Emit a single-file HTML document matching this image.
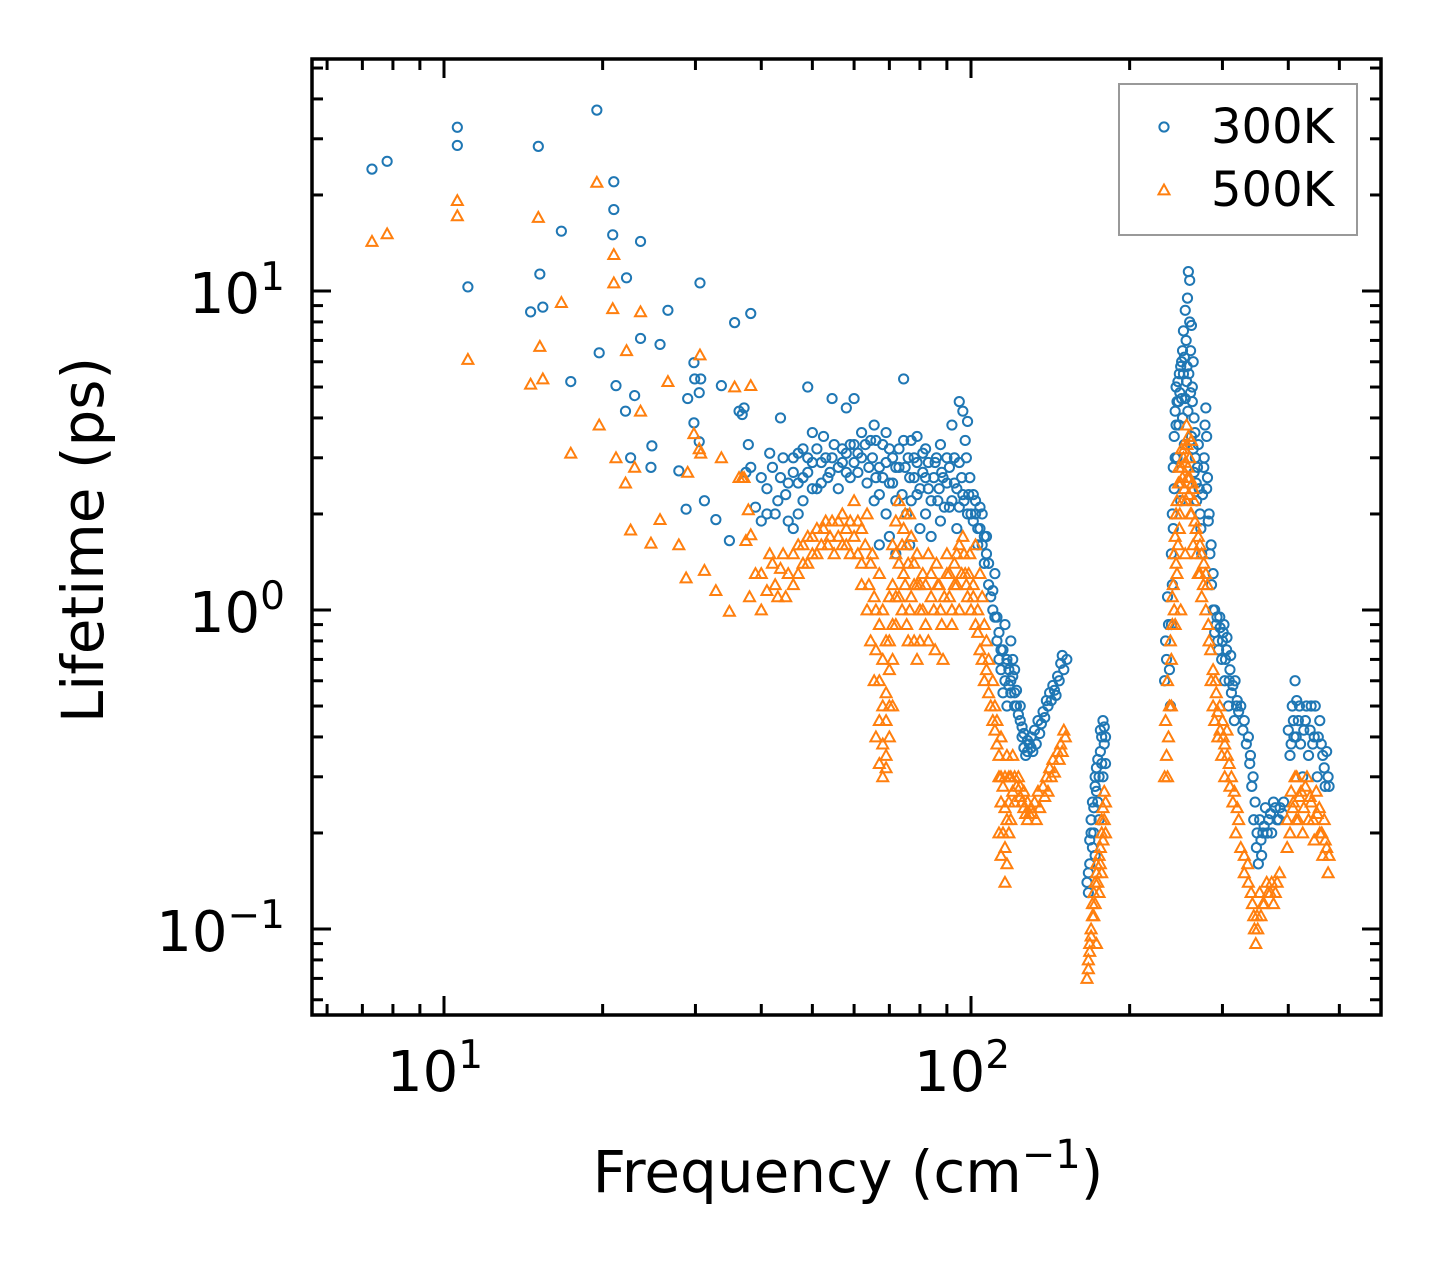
<!DOCTYPE html>
<html><head><meta charset="utf-8"><style>
html,body{margin:0;padding:0;background:#fff;}
svg{display:block;font-family:"DejaVu Sans","Liberation Sans",sans-serif;}
</style></head><body>
<svg id="chart" width="1442" height="1265" xmlns="http://www.w3.org/2000/svg">
<rect width="1442" height="1265" fill="#fff"/>
<g id="marks"></g>
<g id="axes"></g>
</svg>
<script>
// ---- data: [frequency cm^-1, lifetime ps] ----
const lowFreq300 = [[7.3,24.1],[7.8,25.5],[10.6,32.6],[10.6,28.6],[11.1,10.3],[15.1,28.4],[15.2,11.3],[14.6,8.6],[15.4,8.9],[16.7,15.4],[17.4,5.2],[19.5,36.9],[19.7,6.4],[21.0,22],[21.0,18],[20.9,15],[21.2,5.05],[22.2,11],[22.1,4.2],[22.6,3.0],[23.0,4.7],[23.6,14.3],[23.6,7.1],[24.7,2.8],[25.7,6.8],[26.6,8.7],[24.8,3.27],[27.9,2.73],[29.0,4.6],[28.8,2.07],[29.8,5.96],[30.6,10.6],[29.9,5.3],[30.7,5.3],[30.5,4.8],[29.8,3.86],[30.5,3.37],[31.2,2.2],[32.8,1.92],[33.6,5.05],[34.8,1.65],[35.6,7.96],[38.2,8.5],[36.3,4.2],[36.8,4.1],[37.1,4.3],[37.8,3.3],[38.2,2.8],[37.4,2.7]];
const midFreq300 = [[39,2.1],[40,1.9],[41,2.4],[41.5,3.1],[42.5,2.0],[43.5,2.6],[43.5,4.0],[44.5,2.3],[46,3.0],[46,1.8],[47,2.5],[48,3.2],[48,2.2],[49,5.0],[49,2.7],[50,3.6],[51,2.4],[52,2.9],[52.5,3.5],[53.5,2.6],[54.5,4.6],[54.5,3.0],[56,2.8],[57,3.2],[58,2.7],[58,4.3],[59,3.3],[60,2.9],[60,4.6],[61,3.1],[62,3.6],[63.5,2.5],[64.5,3.4],[65.5,2.2],[65.5,3.8],
[67,1.6],[67,2.8],[68,3.3],[69,2.0],[69,3.6],[70,1.7],[70,2.5],[71,3.0],[72,2.2],[72,1.5],[73,2.8],[74.5,5.3],[74.5,3.4],[75.5,2.0],[76.5,2.6],[76.5,1.6],[78,3.0],[79,2.3],[79,3.5],[80,1.8],[81,2.7],[82,3.2],[82,2.0],[83,2.4],[84,1.7],[85.5,2.9],[86.5,2.2],[87.5,3.3],[87.5,1.9],[88.5,2.6],[90,3.0],[91,2.1],[92,3.8],[93,2.5],[94,1.8],[95,4.5],[95,2.9],[96.5,4.2],[96.5,2.3],[97.5,3.4],[98.5,3.9],[98.5,2.0],[99.5,2.6],[101,2.3],[102,2.0],[103,1.8],[104,2.1],[105,1.6],[106,1.4],[107,1.7],[108,1.2],[110,1.0],[111,1.3]];
const highFreq300 = [[112,0.95],[113,0.85],[114,0.75],[116,0.9],[117,0.7],[118,0.65],[119,0.6],[120,0.7],[121,0.55],[122,0.5],[124,0.45],[125,0.4],[126,0.37],[127,0.35],[128,0.36],[129,0.38],[130,0.4],[132,0.42],[134,0.45],[137,0.48],[139,0.52],[141,0.55],[143,0.58],[146,0.62],[148,0.68],[149,0.72],[115,0.55],[119,0.8],[121,0.65],[117,0.5],
[166,0.14],[167,0.13],[168,0.16],[169,0.2],[170,0.18],[171,0.24],[172,0.28],[173,0.32],[175,0.3],[176,0.36],[177,0.4],[178,0.45],[179,0.38],[180,0.33],[175,0.22],[172,0.17],
[233,0.6],[234,0.8],[235,0.7],[236,1.1],[237,0.9],[239,0.5],[240,1.5],[241,2.0],[242,2.8],[243,3.5],[244,4.2],[245,5.0],[246,3.0],[247.5,4.5],[248.5,5.5],[250,2.2],[251,6.0],[252,4.0],[253,7.5],[254,3.3],[255,8.7],[256.5,5.2],[257.5,9.5],[258.5,11.5],[260,10.8],[261,6.5],[262,7.8],[263,5.0],[264,6.0],[265,4.0],[266.5,3.0],[267.5,2.5],[270,3.3],[272,2.0],[274,1.5],[276.5,2.8],[279,4.3],[280,3.5],[281,2.6],[283,2.0],[285.5,1.6],[288,1.3],[290,1.0],[292,0.9],[294,0.8],[296.5,0.95],[299,0.7],[301,0.85],[303,0.6],[305.5,0.75],[308,0.5],[310,0.65],[312,0.55],[316,0.45],[319,0.5],
[325,0.5],[330,0.45],[336,0.4],[339,0.35],[343,0.3],[346,0.25],[349,0.2],[353,0.22],[356,0.17],[358,0.2],[362,0.24],[365,0.2],[370,0.23],[375,0.25],[381,0.22],[386,0.24],[392,0.25],
[403,0.35],[409,0.45],[412,0.6],[414,0.4],[420,0.5],[426,0.3],[431,0.45],[437,0.35],[442,0.5],[448,0.4],[454,0.3],[459,0.45],[465,0.35],[470,0.28],[476,0.3]];
const fill300a = [[40,2.6],[41,2.0],[42,2.8],[43,2.2],[44,3.0],[45,2.5],[45,1.9],[46,2.7],[47,3.1],[47,2.0],[48,2.6],[49,3.0],[50,2.4],[50,2.9],[51,3.2],[52,2.5],[53,3.0],[54,2.7],[55,3.3],[56,2.4],[57,2.9],[58,3.1],[59,2.6],[60,3.3],[61,2.7],[62,3.0],[63,3.3],[64,2.8],[65,3.0],[66,2.6],[66,3.4],
[67,2.3],[68,2.6],[69,2.9],[70,3.2],[71,2.5],[72,2.8],[73,3.2],[74,2.3],[75,2.8],[76,3.0],[77,2.2],[77,3.4],[78,2.6],[79,2.9],[80,2.4],[81,3.1],[82,2.6],[83,2.9],[84,2.2],[85,2.6],[86,3.0],[87,2.4],[88,2.7],[89,2.1],[90,2.5],[91,2.8],[92,2.2],[93,3.0],[94,2.4],[95,2.1],[96,2.6],[97,2.2],[98,3.0],[99,2.3],[100,2.0],[101,1.9],[102,2.2],[103,1.6],[104,1.8],[105,2.0],[106,1.7],[107,1.5],[108,1.4],[109,1.1],[110,1.15],[111,0.95]];
const fill300b = [[112,0.8],[113,0.7],[114,0.65],[115,0.75],[116,0.6],[117,0.68],[118,0.58],[119,0.55],[120,0.62],[121,0.5],[122,0.56],[123,0.47],[124,0.5],[125,0.43],[126,0.41],[128,0.39],[130,0.37],[131,0.36],[133,0.38],[135,0.41],[136,0.44],[138,0.46],[140,0.5],[142,0.52],[144,0.56],[145,0.54],[147,0.6],[150,0.65],[152,0.7],
[167,0.15],[168,0.19],[169,0.22],[170,0.25],[171,0.2],[172,0.3],[173,0.27],[174,0.34],[174,0.25],[176,0.42],[177,0.33],[178,0.3],[179,0.43],[180,0.4]];
const fill300c = [[238,0.65],[240,0.9],[241,1.2],[242,1.8],[243,2.4],[244,3.0],[245,3.8],[246,4.5],[247,5.2],[248,3.8],[249,4.8],[250,5.8],[251,4.6],[252,6.5],[253,5.5],[254,6.2],[255,4.6],[256,7.0],[257,5.8],[258,4.2],[259,5.5],[260,8.0],[261,4.8],[262,3.5],[263,4.5],[264,3.2],[265,2.7],[266,3.6],[268,2.2],[269,2.8],[271,2.4],[273,1.8],[275,2.3],[277,3.0],[278,3.8],[280,2.4],[282,1.9],[284,1.5],[286,1.2],[288,1.0],[290,0.85],[293,0.95],[295,0.75],[297,0.88],[300,0.8],[302,0.9],[304,0.7],[306,0.82],[309,0.6],[311,0.72],[314,0.58],[317,0.6],[320,0.52],[322,0.48],
[328,0.42],[333,0.38],[338,0.33],[341,0.28],[344,0.22],[348,0.18],[351,0.16],[355,0.19],[360,0.21],[367,0.22],[372,0.2],[378,0.24],[384,0.22],[390,0.23],
[400,0.42],[405,0.38],[407,0.5],[410,0.4],[415,0.52],[418,0.45],[422,0.38],[428,0.42],[433,0.5],[440,0.42],[445,0.38],[450,0.5],[456,0.4],[462,0.38],[468,0.32],[473,0.36],[478,0.28]];
const lowFreq500 = [[7.3,14.3],[7.8,15.1],[10.6,19.2],[10.6,17.2],[11.1,6.1],[14.6,5.1],[15.1,17.0],[15.2,6.7],[15.4,5.3],[16.7,9.2],[17.4,3.1],[19.5,21.9],[19.7,3.8],[20.9,8.8],[21.0,10.6],[21.0,13],[21.2,3.0],[22.2,6.5],[22.1,2.5],[22.6,1.78],[23.0,2.8],[23.6,8.6],[23.6,4.2],[24.7,1.62],[25.7,1.92],[26.6,5.2],[27.9,1.6],[29.0,2.7],[28.8,1.26],[29.8,3.57],[30.6,6.3],[30.5,3.2],[30.7,3.1],[31.2,1.33],[32.8,1.15],[33.6,3.0],[34.8,0.99],[35.6,5.0],[38.2,5.05],[36.3,2.6],[36.8,2.6],[37.1,2.6],[37.8,2.06],[38.2,1.72],[37.4,1.65]];
const midFreq500 = [[38,1.1],[39,1.3],[40,1.0],[41.5,1.5],[42.5,1.2],[43.5,1.35],[44.5,1.1],[46,1.5],[47,1.3],[48,1.6],[49,1.4],[50,1.7],[51,1.5],[52.5,1.8],[53.5,1.6],[54.5,1.9],[56,1.7],[57,2.0],[58,1.6],[59,1.9],[60,2.2],[61,1.5],[62,1.2],[62,1.8],[63.5,1.0],[63.5,2.0],[64.5,0.8],[64.5,1.4],
[65.5,0.6],[65.5,1.1],[67,0.45],[67,0.9],[68,0.38],[68,0.7],[69,0.35],[69,0.55],[70,0.5],[70,0.8],[71,0.7],[71,1.2],[72,0.9],[72,1.5],[73,1.1],[73,2.2],[74.5,1.3],[74.5,1.8],[75.5,0.9],[75.5,1.6],[76.5,1.0],[76.5,2.0],[78,0.8],[78,1.4],[79,0.7],[79,1.2],[80,1.0],[81,1.3],[82,0.9],[83,1.5],[84,1.1],[85.5,0.75],[86.5,1.2],[87.5,1.0],[88.5,0.7],[90,1.3],[91,1.1],[92,0.9],[93,1.2],[94,1.5],[95,1.0],[96.5,1.7],[97.5,1.3],[98.5,1.1],[99.5,1.5],[101,1.2],[102,1.6],[103,1.0],[104,1.3],[105,1.1],[106,0.9],[107,0.8],[108,0.7]];
const highFreq500 = [[110,0.6],[111,0.5],[112,0.45],[113,0.3],[113,0.2],[114,0.4],[114,0.17],[116,0.3],[116,0.14],[117,0.35],[117,0.22],[118,0.25],[119,0.3],[120,0.35],[121,0.3],[122,0.28],[124,0.26],[125,0.25],[126,0.24],[127,0.23],[128,0.22],[129,0.23],[130,0.24],[132,0.25],[134,0.27],[137,0.28],[139,0.3],[141,0.32],[143,0.34],[146,0.36],[148,0.38],[150,0.42],
[166,0.07],[167,0.08],[168,0.09],[169,0.1],[170,0.12],[171,0.11],[172,0.14],[173,0.16],[175,0.13],[176,0.18],[177,0.2],[178,0.24],[179,0.27],[180,0.2],[173,0.09],[177,0.15],
[233,0.3],[234,0.45],[235,0.35],[236,0.6],[237,0.4],[239,0.8],[240,0.5],[241,1.1],[243,1.5],[244,0.9],[245,2.0],[246,1.3],[247.5,2.5],[248.5,1.8],[250,1.0],[251,2.8],[252,2.2],[254,3.2],[255,1.5],[256.5,3.8],[257.5,2.6],[258.5,3.5],[260,3.0],[261,2.0],[262,3.4],[263,2.5],[264,1.6],[265,2.2],[267.5,1.8],[270,1.3],[272,1.6],[274,1.1],[276.5,1.4],[279,1.0],[281,1.2],[283,0.8],[285.5,0.6],[288,0.5],[290,0.45],[292,0.55],[294,0.4],[296.5,0.5],[299,0.35],[301,0.4],[303,0.3],[306.5,0.35],[310,0.28],[314,0.25],[318,0.2],
[325,0.18],[330,0.15],[336,0.14],[342,0.12],[345,0.1],[347,0.09],[349,0.11],[353,0.13],[358,0.12],[364,0.14],[370,0.13],[375,0.12],[381,0.14],
[398,0.18],[403,0.2],[409,0.25],[412,0.3],[414,0.22],[420,0.26],[426,0.2],[431,0.28],[437,0.22],[442,0.25],[448,0.19],[454,0.23],[459,0.2],[465,0.17],[470,0.19],[476,0.15]];
const fill500a = [[40,1.3],[41,1.15],[42,1.4],[43,1.1],[44,1.5],[45,1.3],[46,1.2],[47,1.6],[48,1.4],[49,1.7],[50,1.5],[51,1.8],[52,1.6],[53,1.9],[54,1.7],[55,1.5],[56,1.9],[57,1.6],[58,1.8],[59,1.5],[60,1.7],[61,1.9],[62,1.4],[63,1.6],[64,1.2],[65,1.5],[66,1.0],[66,0.75],
[67,0.6],[67,1.3],[68,0.5],[68,1.0],[69,0.45],[69,0.8],[70,0.65],[70,1.1],[71,0.9],[71,1.6],[72,1.1],[72,1.9],[73,1.4],[74,1.6],[74,1.0],[75,1.2],[75,2.0],[76,1.4],[76,0.8],[77,1.7],[77,1.1],[78,1.2],[79,1.5],[80,1.2],[80,0.8],[81,1.0],[82,1.2],[83,0.8],[84,1.3],[85,1.0],[86,1.4],[87,1.2],[88,0.9],[89,1.1],[90,1.5],[91,1.3],[92,1.0],[93,1.4],[94,1.2],[95,1.6],[96,1.3],[97,1.5],[98,1.2],[99,1.3],[100,1.0],[101,1.1],[102,0.9],[103,0.85],[104,0.75],[105,0.7],[106,0.6],[107,0.65],[108,0.55],[109,0.5],[110,0.45],[111,0.42],[112,0.38],
[66,0.4],[67,0.33],[68,0.3],[69,0.32],[70,0.4],[71,0.5]];
const fill500b = [[113,0.35],[114,0.3],[114,0.25],[115,0.2],[115,0.28],[116,0.18],[116,0.24],[117,0.16],[118,0.2],[118,0.3],[119,0.22],[120,0.27],[121,0.25],[123,0.3],[124,0.28],[126,0.27],[128,0.25],[131,0.23],[133,0.22],[135,0.24],[138,0.26],[140,0.27],[142,0.3],[144,0.31],[147,0.34],[149,0.36],[151,0.4],
[167,0.075],[168,0.085],[169,0.095],[170,0.11],[171,0.13],[172,0.12],[173,0.15],[174,0.14],[175,0.17],[176,0.16],[177,0.22],[178,0.19],[179,0.22],[180,0.25]];
const fill500c = [[236,0.3],[238,0.5],[240,0.7],[241,0.9],[242,1.2],[243,1.0],[244,1.7],[245,1.4],[246,2.2],[247,1.6],[248,2.8],[249,2.0],[250,2.5],[251,3.2],[252,2.6],[253,3.0],[254,2.4],[255,2.9],[256,2.2],[257,3.3],[258,2.8],[259,2.3],[260,2.6],[262,2.0],[264,2.4],[266,1.9],[268,1.5],[270,1.7],[272,1.3],[274,1.5],[276,1.2],[279,1.3],[282,0.9],[285,0.75],[288,0.65],[291,0.6],[294,0.48],[297,0.42],[300,0.45],[303,0.38],[306,0.42],[309,0.33],[312,0.3],[316,0.27],[320,0.24],[322,0.22],
[330,0.17],[335,0.16],[340,0.13],[344,0.11],[350,0.1],[355,0.11],[360,0.12],[366,0.13],[372,0.14],[378,0.13],[385,0.15],
[398,0.22],[405,0.27],[408,0.24],[415,0.3],[418,0.22],[423,0.27],[428,0.24],[434,0.3],[440,0.26],[446,0.22],[452,0.27],[458,0.24],[463,0.2],[468,0.22],[473,0.18],[478,0.17]];
const xMajorTicks = [10, 100];
const yMajorTicks = [0.1, 1, 10];
const xTickExps = ["1", "2"];
const yTickExps = ["\u22121", "0", "1"];
const seriesNames = ["300K", "500K"];

// ---- layout ----
const L=312, R=1381, T=59, B=1015;
const X_LOG0=1, X_PX0=444, X_DEC=527;
const Y_PX0=610, Y_DEC=319;
const NS="http://www.w3.org/2000/svg";
function xs(f){return X_PX0 + (Math.log10(f)-X_LOG0)*X_DEC;}
function ys(v){return Y_PX0 - Math.log10(v)*Y_DEC;}
function mk(tag, attrs, parent){const e=document.createElementNS(NS,tag);for(const k in attrs)e.setAttribute(k,attrs[k]);parent.appendChild(e);return e;}
const marks=document.getElementById('marks');
const axes=document.getElementById('axes');
const BLUE="#1f77b4", ORANGE="#ff7f0e";

function circle(cx,cy,parent){
  return mk('circle',{cx:cx,cy:cy,r:4.6,fill:'none',stroke:BLUE,'stroke-width':2},parent);
}
function tri(cx,cy,parent){
  const s=5.5;
  return mk('polygon',{points:`${cx},${cy-s} ${cx-s},${cy+s*0.8} ${cx+s},${cy+s*0.8}`,fill:'none',stroke:ORANGE,'stroke-width':2},parent);
}
const g300=mk('g',{},marks);


[lowFreq300,midFreq300,highFreq300,fill300a,fill300b,fill300c].forEach(arr=>arr.forEach(d=>{
  const c=circle(xs(d[0]),ys(d[1]),g300);
  
  
}));
const g500=mk('g',{},marks);


[lowFreq500,midFreq500,highFreq500,fill500a,fill500b,fill500c].forEach(arr=>arr.forEach(d=>{
  const p=tri(xs(d[0]),ys(d[1]),g500);
  
  
}));

// frame
const frame=mk('rect',{x:L,y:T,width:R-L,height:B-T,fill:'none',stroke:'#000','stroke-width':3.5},axes);



function tickLine(x1,y1,x2,y2,name){
  const l=mk('line',{x1:x1,y1:y1,x2:x2,y2:y2,stroke:'#000','stroke-width':3},axes);
  
  
}
for(let d=1; d<=100; d*=10){
  for(let m=1;m<10;m++){
    const f=d*m; const x=xs(f);
    if(x<L+1||x>R-1) continue;
    const len = m===1?19:11;
    tickLine(x,B,x,B-len,'x-tick');
    tickLine(x,T,x,T+len,'x-tick-top');
  }
}
for(let d=0.01; d<=100; d*=10){
  for(let m=1;m<10;m++){
    const v=d*m; const y=ys(v);
    if(y<T+1||y>B-1) continue;
    const len = m===1?19:11;
    tickLine(L,y,L+len,y,'y-tick');
    tickLine(R,y,R-len,y,'y-tick-right');
  }
}
xMajorTicks.forEach((f,i)=>{
  const t=mk('text',{x:xs(f)-9,y:1091,'font-size':56,'text-anchor':'middle'},axes);
  
  
  t.appendChild(document.createTextNode('10'));
  const s=mk('tspan',{'font-size':39,dy:-23},t);
  s.textContent=xTickExps[i];
});
yMajorTicks.forEach((v,i)=>{
  const t=mk('text',{x:285,y:ys(v)+22,'font-size':56,'text-anchor':'end'},axes);
  
  
  t.appendChild(document.createTextNode('10'));
  const s=mk('tspan',{'font-size':39,dy:-23},t);
  s.textContent=yTickExps[i];
});
const xt=mk('text',{x:848,y:1192,'font-size':58,'text-anchor':'middle'},axes);


xt.appendChild(document.createTextNode('Frequency (cm'));
const xs1=mk('tspan',{'font-size':40,dy:-24},xt); xs1.textContent='\u22121';
const xs2=mk('tspan',{dy:24},xt); xs2.textContent=')';
const yt=mk('text',{x:0,y:0,'font-size':58,'text-anchor':'middle',transform:'translate(103,540) rotate(-90)'},axes);


yt.textContent='Lifetime (ps)';

const lg=mk('g',{},axes);


mk('rect',{x:1119,y:84,width:238,height:151,fill:'#fff',stroke:'#999','stroke-width':2},lg);
const lc=circle(1164,127,lg);


const lt=tri(1164,190,lg);


seriesNames.forEach((n,i)=>{
  const t=mk('text',{x:1211,y:143+i*63,'font-size':48},lg);
  
  
  t.textContent=n;
});
</script>
</body></html>
